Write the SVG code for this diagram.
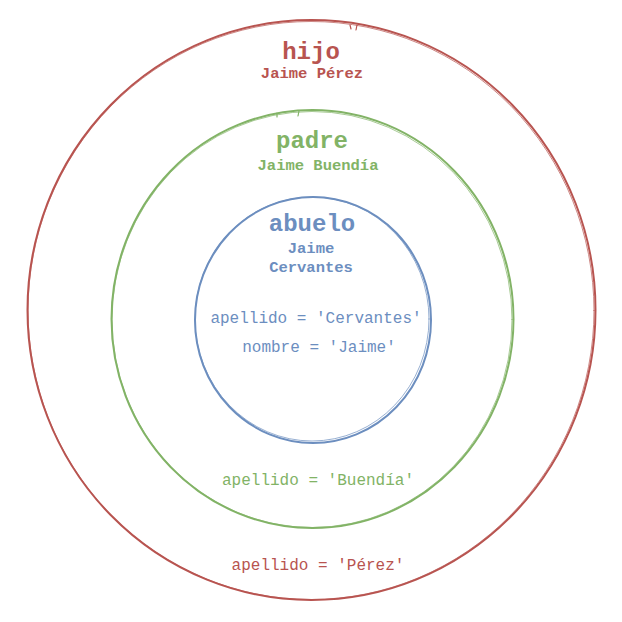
<svg xmlns="http://www.w3.org/2000/svg" width="622" height="622" viewBox="0 0 622 622">
<style>
.ring{fill:none;stroke-linecap:round}
.r{stroke:#b85450}
.g{stroke:#82b366}
.b{stroke:#6c8ebf}
.tr{fill:#b85450}
.tg{fill:#82b366}
.tb{fill:#6c8ebf}
text{font-family:"Liberation Mono","Courier New",monospace;text-anchor:middle;stroke:none}
.title{font-size:24px;font-weight:bold}
.sub{font-size:15.5px;font-weight:bold}
.attr{font-size:16px}
</style>
<rect width="622" height="622" fill="#ffffff"/>
<g id="hijo">
<ellipse class="ring r" cx="311.5" cy="310" rx="284" ry="290" stroke-width="2"/>
<ellipse class="ring r" cx="311" cy="310.5" rx="283" ry="289" stroke-width="1" opacity="0.7"/>
<path class="ring r" d="M350 25 l1 4 M357 25 l-1 5" stroke-width="1.2"/>
<text class="title tr" x="311" y="59">hijo</text>
<text class="sub tr" x="312" y="78">Jaime Pérez</text>
<text class="attr tr" x="318" y="570">apellido = 'Pérez'</text>
</g>
<g id="padre">
<ellipse class="ring g" cx="312.5" cy="319" rx="201" ry="209" stroke-width="2"/>
<ellipse class="ring g" cx="312" cy="319.5" rx="200" ry="208" stroke-width="1" opacity="0.7"/>
<path class="ring g" d="M277 113 l0 4 M299 111 l-1 5" stroke-width="1.2"/>
<text class="title tg" x="312" y="148">padre</text>
<text class="sub tg" x="318" y="170">Jaime Buendía</text>
<text class="attr tg" x="318" y="485">apellido = 'Buendía'</text>
</g>
<g id="abuelo">
<ellipse class="ring b" cx="313" cy="320" rx="118" ry="123" stroke-width="2"/>
<ellipse class="ring b" cx="312" cy="319" rx="117" ry="122" stroke-width="1" opacity="0.7"/>
<text class="title tb" x="312" y="231">abuelo</text>
<text class="sub tb" x="311" y="253">Jaime</text>
<text class="sub tb" x="311" y="272">Cervantes</text>
<text class="attr tb" x="316" y="323">apellido = 'Cervantes'</text>
<text class="attr tb" x="319" y="352">nombre = 'Jaime'</text>
</g>
</svg>
